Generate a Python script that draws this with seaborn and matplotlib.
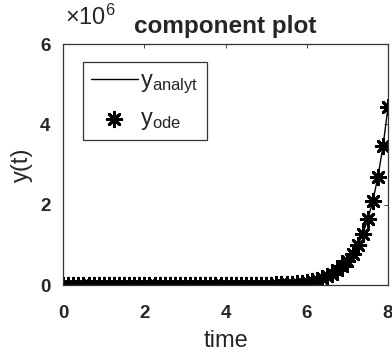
#!/usr/bin/env python3
"""Component plot: analytic solution vs ODE solution
"""

import numpy as np
import pandas as pd
import matplotlib
matplotlib.use("Agg")
import matplotlib.pyplot as plt
import seaborn as sns

# time grid (step 0.125)
time = np.linspace(0, 8, 65)

# y(t) in units of 1e6
y_vals = [
    0.0000, 0.0000, 0.0000, 0.0000, 0.0000, 0.0000, 0.0000, 0.0000,
    0.0000, 0.0000, 0.0000, 0.0000, 0.0000, 0.0000, 0.0000, 0.0000,
    0.0000, 0.0000, 0.0000, 0.0000, 0.0001, 0.0001, 0.0001, 0.0002,
    0.0002, 0.0003, 0.0003, 0.0004, 0.0005, 0.0007, 0.0009, 0.0012,
    0.0015, 0.0019, 0.0025, 0.0032, 0.0041, 0.0052, 0.0067, 0.0086,
    0.011, 0.014, 0.018, 0.023, 0.030, 0.038, 0.049, 0.063,
    0.081, 0.104, 0.134, 0.172, 0.221, 0.284, 0.365, 0.468,
    0.601, 0.772, 0.991, 1.273, 1.635, 2.099, 2.695, 3.460,
    4.443,
]

x_ticks = [0, 2, 4, 6, 8]
y_ticks = [0, 2, 4, 6]


def main():
    sns.set_style("white")
    plt.rcParams['font.family'] = ['Liberation Sans', 'DejaVu Sans']
    plt.rcParams['mathtext.fontset'] = 'custom'
    plt.rcParams['mathtext.rm'] = 'Liberation Sans'
    plt.rcParams['mathtext.it'] = 'Liberation Sans'

    df = pd.DataFrame({'time': time, 'y': y_vals})

    fig = plt.figure(figsize=(3.92, 3.56), dpi=100)
    ax = fig.add_axes([0.161, 0.199, 0.829, 0.677])

    sns.lineplot(x='time', y='y', data=df, ax=ax, color='black', linewidth=1.0,
                 label=r'$\mathregular{y_{analyt}}$')
    sns.scatterplot(x='time', y='y', data=df, ax=ax, color='black',
                    marker=(8, 2, 0), s=110, linewidth=2.0,
                    label=r'$\mathregular{y_{ode}}$')

    ax.set_xlim(0, 8)
    ax.set_ylim(0, 6)
    ax.set_xticks(x_ticks)
    ax.set_yticks(y_ticks)
    ax.tick_params(direction='in', length=3, width=0.6, labelsize=13.5,
                   top=True, right=True)
    ax.tick_params(axis='x', pad=14)
    ax.tick_params(axis='y', pad=9)
    for lbl in ax.get_xticklabels() + ax.get_yticklabels():
        lbl.set_fontweight('bold')
    for sp in ax.spines.values():
        sp.set_visible(True)
        sp.set_color('#333333')
        sp.set_linewidth(0.9)

    ax.set_xlabel('time', fontsize=17, labelpad=6)
    ax.set_ylabel('y(t)', fontsize=17, labelpad=5)
    ax.set_title('component plot', fontsize=17.5, fontweight='bold', pad=8)
    ax.text(0.005, 1.079, r'$\times\mathregular{10^{6}}$', transform=ax.transAxes,
            fontsize=17, ha='left', va='baseline')

    leg = ax.legend(loc='upper left', bbox_to_anchor=(0.06, 0.925),
                    frameon=True, fancybox=False, fontsize=17,
                    handlelength=2.0, borderpad=0.35, labelspacing=0.5,
                    handletextpad=0.1, borderaxespad=0)
    leg.get_frame().set_edgecolor('black')
    leg.get_frame().set_linewidth(0.9)

    fig.savefig('out.png', dpi=100)


if __name__ == '__main__':
    main()
